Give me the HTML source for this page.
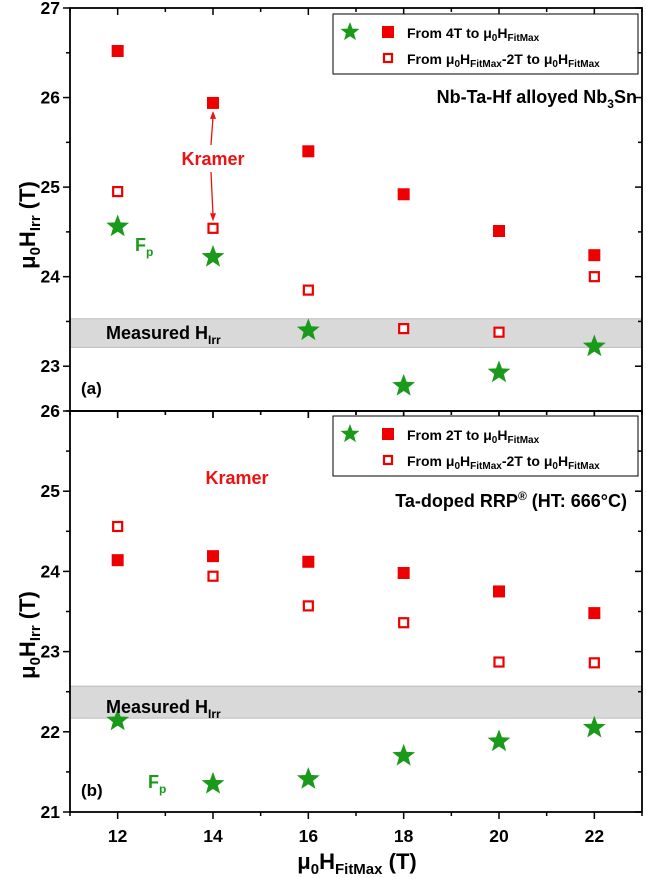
<!DOCTYPE html>
<html><head><meta charset="utf-8"><style>
html,body{margin:0;padding:0;background:#fff}
svg{display:block;font-family:"Liberation Sans",Arial,sans-serif;font-weight:bold}
</style></head><body>
<svg id="chart" width="646" height="878" viewBox="0 0 646 878" xmlns="http://www.w3.org/2000/svg">
<g id="gA"></g>
<g id="gB"></g>
<text x="0" y="0" font-size="22" transform="translate(35,225) rotate(-90)" text-anchor="middle">μ<tspan font-size="15" dy="5">0</tspan><tspan dy="-5">H</tspan><tspan font-size="15" dy="5">Irr</tspan><tspan dy="-5"> (T)</tspan></text>
<text x="0" y="0" font-size="22" transform="translate(35,635) rotate(-90)" text-anchor="middle">μ<tspan font-size="15" dy="5">0</tspan><tspan dy="-5">H</tspan><tspan font-size="15" dy="5">Irr</tspan><tspan dy="-5"> (T)</tspan></text>
<text x="357" y="869" font-size="22" text-anchor="middle">μ<tspan font-size="15" dy="5">0</tspan><tspan dy="-5">H</tspan><tspan font-size="15" dy="5">FitMax</tspan><tspan dy="-5"> (T)</tspan></text>
</svg>
<script>
const xCats = [12, 14, 16, 18, 20, 22];
const xTicks = [12, 14, 16, 18, 20, 22];
const aFilled = [26.52, 25.94, 25.40, 24.92, 24.51, 24.24];
const aOpen = [24.95, 24.54, 23.85, 23.42, 23.38, 24.00];
const aStar = [24.56, 24.22, 23.40, 22.78, 22.93, 23.22];
const aBand = [23.21, 23.53];
const aYTicks = [23, 24, 25, 26, 27];
const bFilled = [24.14, 24.19, 24.12, 23.98, 23.75, 23.48];
const bOpen = [24.56, 23.94, 23.57, 23.36, 22.87, 22.86];
const bStar = [22.14, 21.35, 21.41, 21.70, 21.88, 22.05];
const bBand = [22.17, 22.57];
const bYTicks = [21, 22, 23, 24, 25, 26];

const NS = "http://www.w3.org/2000/svg";
const L = 70, R = 642;
const xs = v => L + (v - 11) / 12 * (R - L);
function mk(tag, attrs, parent) {
  const e = document.createElementNS(NS, tag);
  for (const k in attrs) e.setAttribute(k, attrs[k]);
  parent.appendChild(e);
  return e;
}
function starPts(cx, cy, r) {
  const p = [];
  for (let i = 0; i < 10; i++) {
    const a = -Math.PI / 2 + i * Math.PI / 5;
    const rr = i % 2 ? r * 0.42 : r;
    p.push((cx + rr * Math.cos(a)).toFixed(1) + "," + (cy + rr * Math.sin(a)).toFixed(1));
  }
  return p.join(" ");
}
function panel(g, top, bot, ymin, ymax, yticks, filled, open, star, band, showX) {
  const ys = v => bot - (v - ymin) / (ymax - ymin) * (bot - top);
  const b = mk("rect", {x: L, y: ys(band[1]), width: R - L, height: ys(band[0]) - ys(band[1]), fill: "#d9d9d9", stroke: "#bdbdbd", "stroke-width": 1}, g);
  
  
  for (let v = ymin; v <= ymax + 1e-9; v += 0.5) {
    const y = ys(v), major = Math.abs(v - Math.round(v)) < 1e-6;
    mk("line", {x1: L - (major ? 7 : 4), x2: L, y1: y, y2: y, stroke: "#000", "stroke-width": 1.5}, g);
    mk("line", {x1: R, x2: R - (major ? 7 : 4), y1: y, y2: y, stroke: "#000", "stroke-width": 1.5}, g);
  }
  yticks.forEach(v => {
    const t = mk("text", {x: L - 10, y: ys(v) + 6, "font-size": 17.5, "text-anchor": "end"}, g);
    t.textContent = v;
    
    
  });
  for (let v = 11; v <= 23; v += 1) {
    const x = xs(v), major = v % 2 === 0;
    mk("line", {x1: x, x2: x, y1: bot, y2: bot + (major ? 7 : 4), stroke: "#000", "stroke-width": 1.5}, g);
    mk("line", {x1: x, x2: x, y1: top, y2: top + (major ? 7 : 4), stroke: "#000", "stroke-width": 1.5}, g);
  }
  if (showX) xTicks.forEach(v => {
    const t = mk("text", {x: xs(v), y: bot + 30, "font-size": 17.5, "text-anchor": "middle"}, g);
    t.textContent = v;
    
    
  });
  const fr = mk("rect", {x: L, y: top, width: R - L, height: bot - top, fill: "none", stroke: "#000", "stroke-width": 1.8}, g);
  
  
  xCats.forEach((c, i) => {
    const f = mk("rect", {x: xs(c) - 6, y: ys(filled[i]) - 6, width: 12, height: 12, fill: "#ee0000"}, g);
    
    
    const o = mk("rect", {x: xs(c) - 4.5, y: ys(open[i]) - 4.5, width: 9, height: 9, fill: "#fff", stroke: "#ee0000", "stroke-width": 2.2}, g);
    
    
    const s = mk("polygon", {points: starPts(xs(c), ys(star[i]), 12), fill: "#1a9a1a"}, g);
    
    
  });
  return ys;
}
const gA = document.getElementById("gA"), gB = document.getElementById("gB");
const ysA = panel(gA, 8, 411, 22.5, 27, aYTicks, aFilled, aOpen, aStar, aBand, false);
const ysB = panel(gB, 411, 812, 21, 26, bYTicks, bFilled, bOpen, bStar, bBand, true);

function txt(g, x, y, size, fill, html, name, anchor) {
  const t = mk("text", {x: x, y: y, "font-size": size, fill: fill, "text-anchor": anchor || "start"}, g);
  t.innerHTML = html;
  
  
  return t;
}
function legend(g, y0, label1, name) {
  const box = mk("rect", {x: 333, y: y0, width: 305, height: 60, fill: "#fff", stroke: "#000", "stroke-width": 1}, g);
  
  
  mk("polygon", {points: starPts(350, y0 + 18, 10), fill: "#1a9a1a"}, g);
  mk("rect", {x: 382, y: y0 + 12, width: 12, height: 12, fill: "#ee0000"}, g);
  mk("rect", {x: 384, y: y0 + 40, width: 8, height: 8, fill: "#fff", stroke: "#ee0000", "stroke-width": 2.2}, g);
  txt(g, 407, y0 + 24, 14, "#000", label1, "legend-entry-filled");
  txt(g, 407, y0 + 50, 14, "#000", 'From μ<tspan font-size="10" dy="3">0</tspan><tspan dy="-3">H</tspan><tspan font-size="10" dy="3">FitMax</tspan><tspan dy="-3">-2T to μ</tspan><tspan font-size="10" dy="3">0</tspan><tspan dy="-3">H</tspan><tspan font-size="10" dy="3">FitMax</tspan>', "legend-entry-open");
}
legend(gA, 14, 'From 4T to μ<tspan font-size="10" dy="3">0</tspan><tspan dy="-3">H</tspan><tspan font-size="10" dy="3">FitMax</tspan>', "legend-a");
legend(gB, 416, 'From 2T to μ<tspan font-size="10" dy="3">0</tspan><tspan dy="-3">H</tspan><tspan font-size="10" dy="3">FitMax</tspan>', "legend-b");
txt(gA, 637, 103, 18, "#000", 'Nb-Ta-Hf alloyed Nb<tspan font-size="12" dy="5">3</tspan><tspan dy="-5">Sn</tspan>', "sample-title-a", "end");
txt(gB, 627, 507, 18, "#000", 'Ta-doped RRP<tspan font-size="12" dy="-7">®</tspan><tspan dy="7"> (HT: 666°C)</tspan>', "sample-title-b", "end");
txt(gA, 106, 339, 18, "#000", 'Measured H<tspan font-size="12" dy="5">Irr</tspan>', "measured-label-a");
txt(gB, 106, 713, 18, "#000", 'Measured H<tspan font-size="12" dy="5">Irr</tspan>', "measured-label-b");
txt(gA, 81, 394, 17, "#000", '(a)', "panel-label-a");
txt(gB, 81, 796, 17, "#000", '(b)', "panel-label-b");
txt(gA, 213, 165, 18, "#ee1111", 'Kramer', "kramer-label-a", "middle");
txt(gB, 237, 484, 18, "#ee1111", 'Kramer', "kramer-label-b", "middle");
txt(gA, 135, 251, 18, "#1a9a1a", 'F<tspan font-size="12" dy="5">p</tspan>', "fp-label-a");
txt(gB, 148, 788, 18, "#1a9a1a", 'F<tspan font-size="12" dy="5">p</tspan>', "fp-label-b");
const ax = xs(14);
[[145, ysA(aFilled[1]) + 8], [172, ysA(aOpen[1]) - 7]].forEach(([y1, y2]) => {
  const ln = mk("line", {x1: ax - 2, y1: y1, x2: ax, y2: y2 + (y2 < y1 ? 6 : -6), stroke: "#ee1111", "stroke-width": 1.3}, gA);
  
  
  const d = y2 < y1 ? 1 : -1;
  mk("polygon", {points: `${ax},${y2} ${ax - 3},${y2 + 8 * d} ${ax + 3},${y2 + 8 * d}`, fill: "#ee1111"}, gA);
});
</script>
</body></html>
